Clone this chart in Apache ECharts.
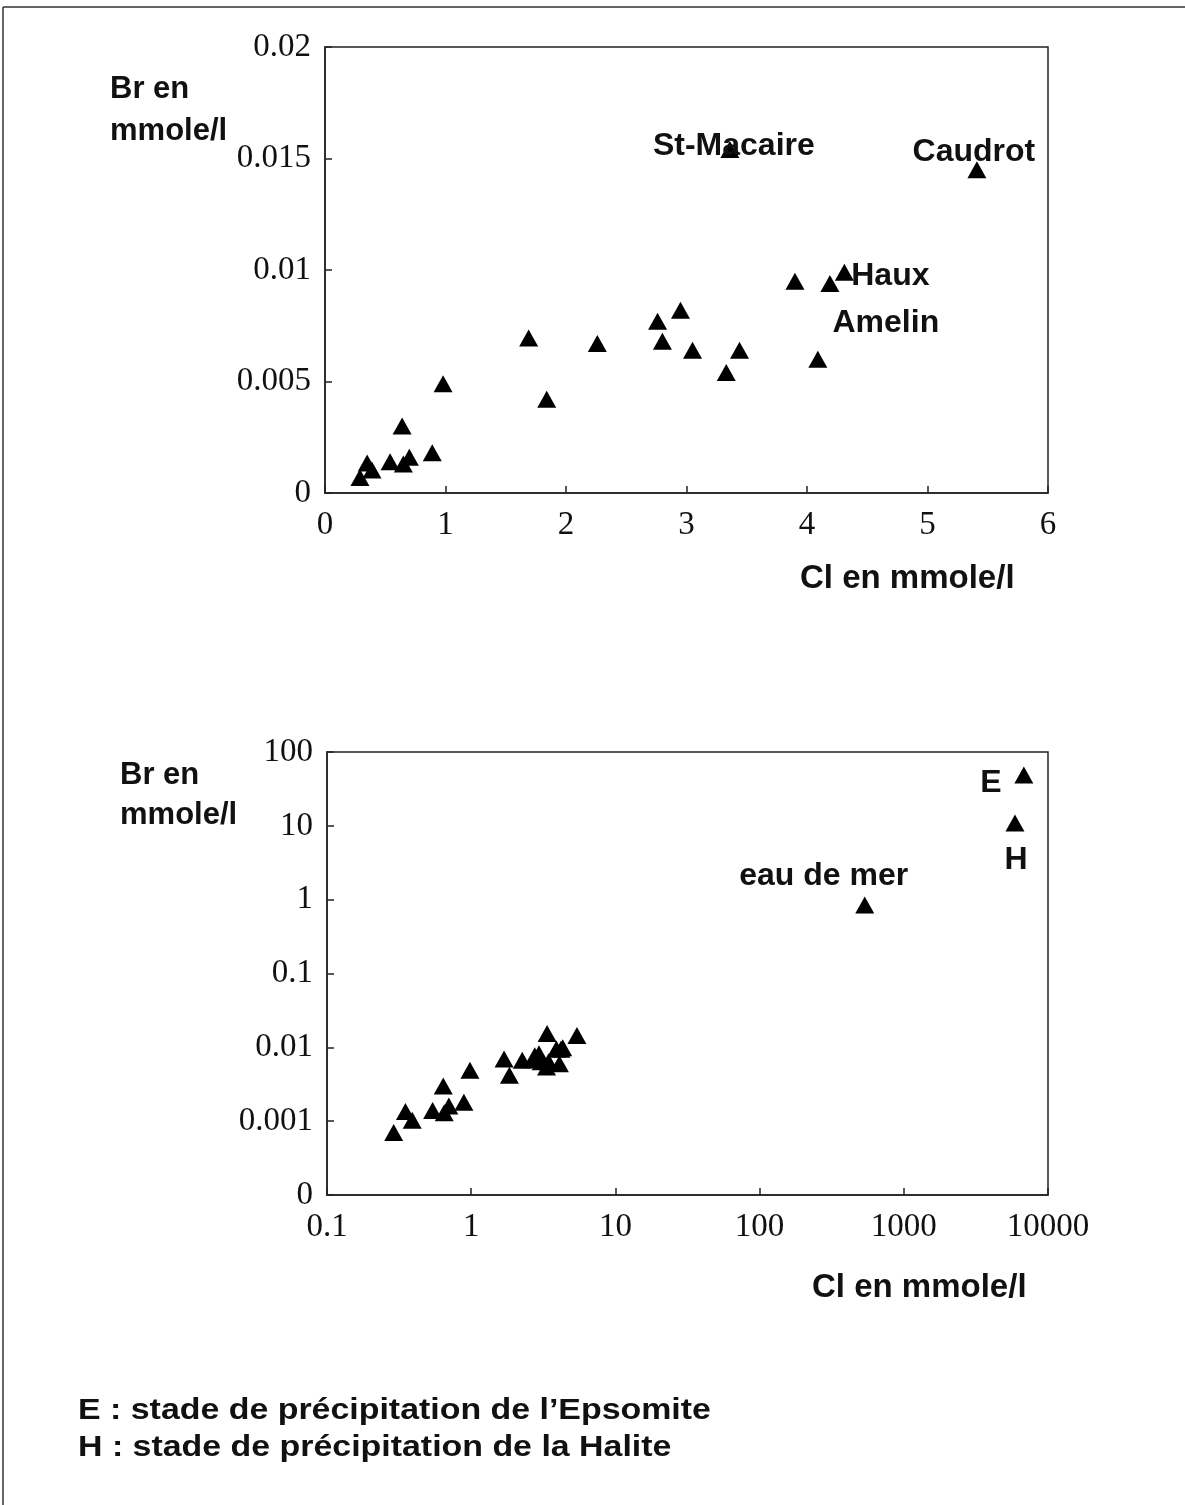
<!DOCTYPE html>
<html>
<head>
<meta charset="utf-8">
<script src="https://cdn.jsdelivr.net/npm/echarts@6/dist/echarts.min.js"></script>
<style>
  html, body { margin: 0; padding: 0; background: #fff; }
  #chart { width: 1185px; height: 1505px; }
</style>
</head>
<body>
<div id="chart"></div>
<script>
// Cl et Br (mmole/l) des eaux - graphique du haut (lineaire) et du bas (log)
let clEaux = [0.29, 0.35, 0.39, 0.54, 0.65, 0.70, 0.64, 0.89, 0.98, 1.69, 1.84, 2.26,
              2.76, 2.95, 2.80, 3.05, 3.36, 5.41, 3.90, 4.19, 4.31, 3.44, 3.33, 4.09];
let brEaux = [0.0007, 0.00135, 0.00103, 0.0014, 0.0013, 0.0016, 0.003, 0.0018, 0.0049, 0.00695, 0.0042, 0.0067,
              0.0077, 0.0082, 0.0068, 0.0064, 0.0154, 0.0145, 0.0095, 0.0094, 0.0099, 0.0064, 0.0054, 0.006];
// noms des stations (index dans les tableaux ci-dessus)
let stationNames = ['St-Macaire', 'Caudrot', 'Haux', 'Amelin'];
let stationIdx = [16, 17, 20, 23];

// eau de mer et stades d'evaporation
let refNames = ['eau de mer', 'E', 'H'];
let clRef = [536, 6800, 5900];
let brRef = [0.845, 48.7, 10.9];

// ticks
let xTicksTop = [0, 1, 2, 3, 4, 5, 6];
let yTicksTop = [0, 0.005, 0.01, 0.015, 0.02];

const chart = echarts.init(document.getElementById('chart'), null, { renderer: 'canvas' });

const serif = 'Liberation Serif';
const sans = 'Liberation Sans';
const ink = '#111';

// placement des etiquettes par rapport au point
const labelOffsets = {
  'St-Macaire': [4, -3],
  'Caudrot': [-3, -17],
  'Haux': [46, 4],
  'Amelin': [68, -36],
  'eau de mer': [-41, -29],
  'E': [-33, 8],
  'H': [1, 37]
};

function mkLabel(name) {
  return {
    show: true,
    position: 'inside',
    offset: labelOffsets[name],
    formatter: name,
    color: ink,
    opacity: 1,
    fontFamily: sans,
    fontWeight: 'bold',
    fontSize: 32
  };
}

let topData = clEaux.map(function (x, i) {
  let item = { value: [x, brEaux[i]] };
  let k = stationIdx.indexOf(i);
  if (k >= 0) item.label = mkLabel(stationNames[k]);
  return item;
});
let bottomData = clEaux.map(function (x, i) { return [x, brEaux[i]]; });
for (let i = 0; i < refNames.length; i++) {
  bottomData.push({ value: [clRef[i], brRef[i]], label: mkLabel(refNames[i]) });
}

function axisCommon() {
  return {
    axisLine: { show: true, onZero: false, lineStyle: { color: '#222', width: 1.5 } },
    axisTick: { show: true, inside: true, length: 7, lineStyle: { color: '#222', width: 1.5 } },
    splitLine: { show: false },
    minorTick: { show: false },
    axisLabel: { color: ink, fontFamily: serif, fontSize: 33 }
  };
}

function fmtNum(v) {
  return String(+(+v).toPrecision(3));
}

let xTop = Object.assign(axisCommon(), {
  type: 'value', gridIndex: 0,
  min: xTicksTop[0], max: xTicksTop[xTicksTop.length - 1], interval: 1
});
xTop.axisLabel.margin = 16;
xTop.axisLabel.formatter = fmtNum;

let yTop = Object.assign(axisCommon(), {
  type: 'value', gridIndex: 0,
  min: yTicksTop[0], max: yTicksTop[yTicksTop.length - 1], interval: 0.005
});
yTop.axisLabel.margin = 14;
yTop.axisLabel.formatter = fmtNum;

let xBot = Object.assign(axisCommon(), {
  type: 'log', logBase: 10, gridIndex: 1,
  min: 0.1, max: 10000, splitNumber: 5
});
xBot.axisLabel.margin = 16;
xBot.axisLabel.formatter = fmtNum;

let yBot = Object.assign(axisCommon(), {
  type: 'log', logBase: 10, gridIndex: 1,
  min: 0.0001, max: 100, splitNumber: 6
});
yBot.axisLabel.margin = 14;
yBot.axisLabel.formatter = function (v) {
  return v < 0.0002 ? '0' : fmtNum(v);
};

function txt(x, y, text, size, lh, sx) {
  return {
    type: 'text', x: x, y: y, z: 10, scaleX: sx || 1,
    style: {
      text: text, fill: ink, font: 'bold ' + size + 'px "' + sans + '"',
      lineHeight: lh || size, verticalAlign: 'top', align: 'left'
    }
  };
}

let option = {
  backgroundColor: '#fff',
  animation: false,
  grid: [
    { left: 325, top: 47, width: 723, height: 446, show: true, borderColor: '#222', borderWidth: 1.5,
      backgroundColor: 'transparent', outerBoundsMode: 'none' },
    { left: 327, top: 752, width: 721, height: 443, show: true, borderColor: '#222', borderWidth: 1.5,
      backgroundColor: 'transparent', outerBoundsMode: 'none' }
  ],
  xAxis: [xTop, xBot],
  yAxis: [yTop, yBot],
  series: [
    {
      type: 'scatter', xAxisIndex: 0, yAxisIndex: 0,
      symbol: 'triangle', symbolSize: [19, 17],
      itemStyle: { color: '#000', opacity: 1 },
      data: topData
    },
    {
      type: 'scatter', xAxisIndex: 1, yAxisIndex: 1,
      symbol: 'triangle', symbolSize: [19, 17],
      itemStyle: { color: '#000', opacity: 1 },
      data: bottomData
    }
  ],
  graphic: [
    // cadre de la page
    { type: 'line', shape: { x1: 3, y1: 7, x2: 1185, y2: 7 }, style: { stroke: '#333', lineWidth: 1.5 } },
    { type: 'line', shape: { x1: 3, y1: 7, x2: 3, y2: 1505 }, style: { stroke: '#333', lineWidth: 1.5 } },
    txt(110, 68, 'Br en\nmmole/l', 31, 42),
    txt(800, 562, 'Cl en mmole/l', 33),
    txt(120, 755, 'Br en\nmmole/l', 31, 40),
    txt(812, 1271, 'Cl en mmole/l', 33),
    // legende du bas, un peu plus large comme dans l'original
    txt(78, 1392, 'E : stade de précipitation de l\u2019Epsomite\nH : stade de précipitation de la Halite', 30, 37, 1.13)
  ]
};

chart.setOption(option);
window.addEventListener('resize', function () { chart.resize(); });
</script>
</body>
</html>
